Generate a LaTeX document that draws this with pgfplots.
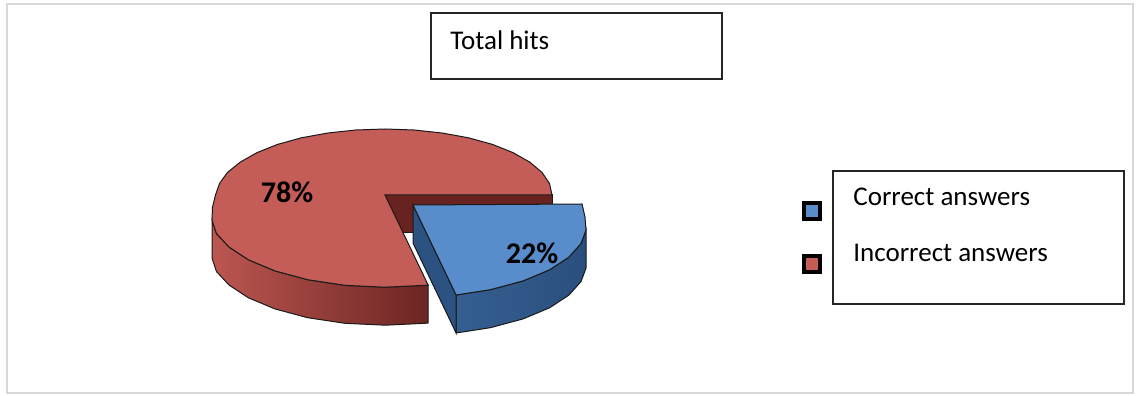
\documentclass[border=0pt]{standalone}
\usepackage{pgfplots}
\pgfplotsset{compat=1.18}
\usepackage{fontspec}
\setmainfont{Carlito}

\definecolor{redtop}{HTML}{C45C58}
\definecolor{redsideL}{HTML}{BC5651}
\definecolor{redsideM}{HTML}{A5443F}
\definecolor{redsideR}{HTML}{6C2522}
\definecolor{redcut}{HTML}{682220}
\definecolor{bluetop}{HTML}{588CCB}
\definecolor{bluesideL}{HTML}{355F91}
\definecolor{bluesideR}{HTML}{2A4F7E}
\definecolor{bluecut}{HTML}{2C5282}
\definecolor{edge}{HTML}{1A1A1A}
\definecolor{framegray}{HTML}{D8D8D8}

\begin{document}
\begin{tikzpicture}
% canvas in pixel units; pie: Correct answers 22%, Incorrect answers 78%
\begin{axis}[at={(0,0)}, anchor=south west, x=0.5pt, y=0.5pt,
  xmin=0, xmax=1136, ymin=0, ymax=396, scale only axis, hide axis, clip=false]
\path (axis cs:0,0) rectangle (axis cs:1136,396);
\draw[framegray, line width=1pt] (axis cs:7,392) rectangle (axis cs:1133,3);
\draw[black!85, line width=0.7pt] (axis cs:431,383) rectangle (axis cs:722,317);
\node[anchor=base west, inner sep=0pt, font=\fontsize{13.5}{16}\selectfont] at (axis cs:450,346) {Total hits};
\draw[black!85, line width=0.7pt] (axis cs:833,225) rectangle (axis cs:1124,92);
\node[anchor=base west, inner sep=0pt, font=\fontsize{13.5}{16}\selectfont] at (axis cs:853,190) {Correct answers};
\node[anchor=base west, inner sep=0pt, font=\fontsize{13.5}{16}\selectfont] at (axis cs:853,134) {Incorrect answers};
\addplot[only marks, mark=square*, mark size=4.1pt,
  mark options={draw=black, line width=1.75pt, fill=bluetop}] coordinates {(812,185)};
\addplot[only marks, mark=square*, mark size=4.1pt,
  mark options={draw=black, line width=1.75pt, fill=redtop}] coordinates {(812,132)};

% ---- Incorrect answers (78%) ----
% cut face at 0 deg
\addplot[draw=edge, line width=0.5pt, fill=redcut] coordinates {
 (385,201) (552,201) (552,163) (385,163)} -- cycle;
% outer side
\addplot[draw=edge, line width=0.5pt, left color=redsideL, middle color=redsideM, right color=redsideR] coordinates {
 (212,175.9) (216.5,162.4) (229.1,148.9) (248.4,136.2) (274.9,125.1) (307.6,116.3)
 (344.9,110.7) (385,108.8) (425.1,110.7) (428.1,111)
 (428.1,73) (425.1,72.7) (385,70.8) (344.9,72.7) (307.6,78.3) (274.9,87.1)
 (248.4,98.2) (229.1,110.9) (216.5,124.4) (212,137.9)} -- cycle;
% top
\addplot[draw=edge, line width=0.5pt, fill=redtop] coordinates {
 (385,201) (552,201) (549.5,212.5) (542,223.6) (529.6,234) (512.9,243.4) (492.4,251.6)
 (468.5,258.2) (442.1,263) (414.1,266) (385,267) (355.9,266) (327.9,263) (301.5,258.2)
 (277.6,251.6) (257.1,243.4) (240.4,234) (227.5,223.6) (219.5,212.5) (215.5,201)
 (212.5,188.8) (212,175.9) (216.5,162.4) (229.1,148.9) (248.4,136.2) (274.9,125.1)
 (307.6,116.3) (344.9,110.7) (385,108.8) (425.1,110.7) (428.1,111)} -- cycle;

% ---- Correct answers (22%), exploded ----
% outer side
\addplot[draw=edge, line width=0.5pt, left color=bluesideL, right color=bluesideR] coordinates {
 (456.1,101) (490.4,106.3) (523.1,115.1) (549.6,126.2) (568.9,138.9) (581,152.4) (586,165.9)
 (586,127.9) (581,114.4) (568.9,100.9) (549.6,88.2) (523.1,77.1) (490.4,68.3) (456.1,63)} -- cycle;
% cut face at 280.8 deg
\addplot[draw=edge, line width=0.5pt, fill=bluecut] coordinates {
 (413,191) (456.1,101) (456.1,63) (413,153)} -- cycle;
% top
\addplot[draw=edge, line width=0.5pt, fill=bluetop] coordinates {
 (413,191) (456.1,101) (490.4,106.3) (523.1,115.1) (549.6,126.2) (568.9,138.9)
 (581,152.4) (586,165.9) (585,179) (582,192)} -- cycle;

\node[font=\bfseries\fontsize{15}{18}\selectfont] at (axis cs:287,204) {78\%};
\node[font=\bfseries\fontsize{15}{18}\selectfont] at (axis cs:532,143) {22\%};
\end{axis}
\end{tikzpicture}
\end{document}
